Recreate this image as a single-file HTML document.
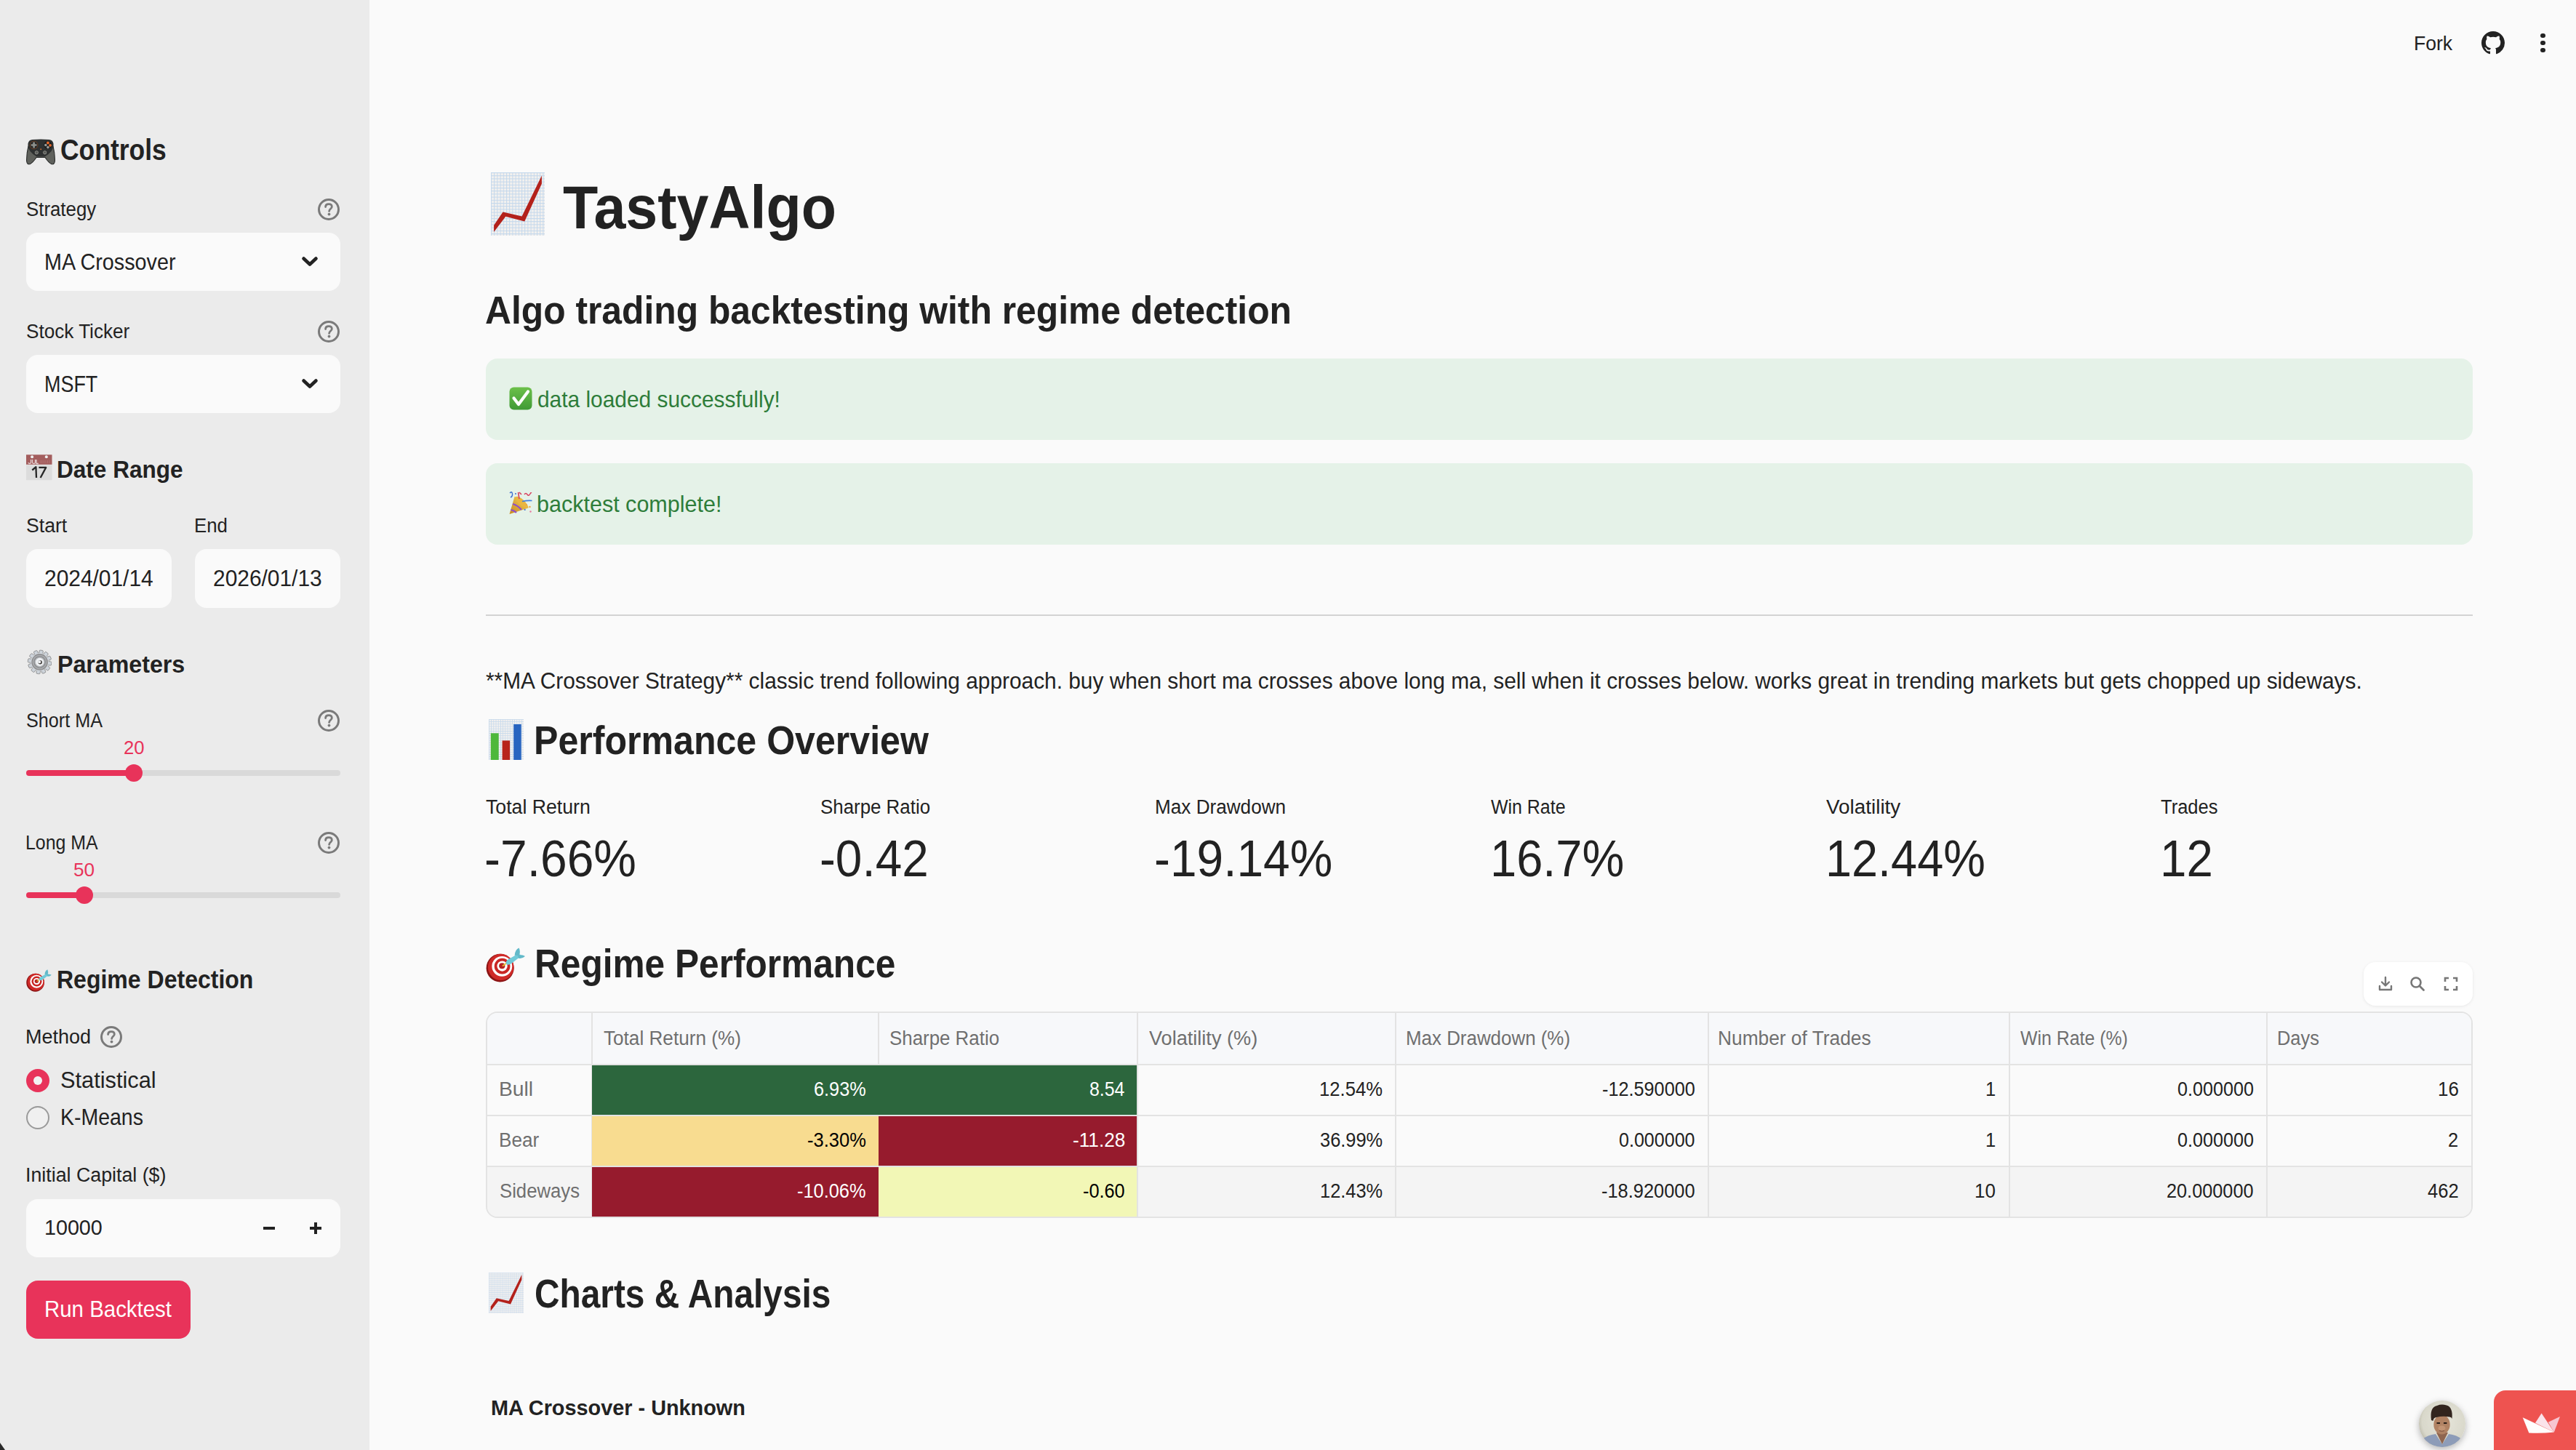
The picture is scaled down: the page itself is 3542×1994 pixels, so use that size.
<!DOCTYPE html>
<html><head><meta charset="utf-8"><style>
html,body{margin:0;padding:0;width:3542px;height:1994px;overflow:hidden;background:#fafafa;}
.t{position:absolute;white-space:nowrap;line-height:1;transform-origin:0 0;font-family:"Liberation Sans",sans-serif;}
.b{position:absolute;}
</style></head><body>
<div class="b" style="left:0px;top:0px;width:508px;height:1994px;background:#ebebeb;border-radius:0px;"></div>
<div class="b" style="left:36px;top:320px;width:432px;height:80px;background:#fafafa;border-radius:16px;"></div>
<svg class="b" style="left:412px;top:348px" width="28" height="24" viewBox="0 0 28 24"><path d="M5.5 7.5 L14 15.5 L22.5 7.5" fill="none" stroke="#222" stroke-width="4.6" stroke-linecap="round" stroke-linejoin="round"/></svg>
<div class="b" style="left:36px;top:488px;width:432px;height:80px;background:#fafafa;border-radius:16px;"></div>
<svg class="b" style="left:412px;top:516px" width="28" height="24" viewBox="0 0 28 24"><path d="M5.5 7.5 L14 15.5 L22.5 7.5" fill="none" stroke="#222" stroke-width="4.6" stroke-linecap="round" stroke-linejoin="round"/></svg>
<svg class="b" style="left:435px;top:271px" width="34" height="34" viewBox="0 0 34 34"><circle cx="17" cy="17" r="13.5" fill="none" stroke="#7a7a7a" stroke-width="3"/><path d="M12.6 13.6 C12.6 10.9 14.6 9.6 17 9.6 C19.5 9.6 21.3 11 21.3 13.3 C21.3 16.2 17.6 16.4 17.6 19.4" fill="none" stroke="#7a7a7a" stroke-width="2.8" stroke-linecap="round"/><circle cx="17.5" cy="23.6" r="1.9" fill="#7a7a7a"/></svg>
<svg class="b" style="left:435px;top:439px" width="34" height="34" viewBox="0 0 34 34"><circle cx="17" cy="17" r="13.5" fill="none" stroke="#7a7a7a" stroke-width="3"/><path d="M12.6 13.6 C12.6 10.9 14.6 9.6 17 9.6 C19.5 9.6 21.3 11 21.3 13.3 C21.3 16.2 17.6 16.4 17.6 19.4" fill="none" stroke="#7a7a7a" stroke-width="2.8" stroke-linecap="round"/><circle cx="17.5" cy="23.6" r="1.9" fill="#7a7a7a"/></svg>
<svg class="b" style="left:435px;top:974px" width="34" height="34" viewBox="0 0 34 34"><circle cx="17" cy="17" r="13.5" fill="none" stroke="#7a7a7a" stroke-width="3"/><path d="M12.6 13.6 C12.6 10.9 14.6 9.6 17 9.6 C19.5 9.6 21.3 11 21.3 13.3 C21.3 16.2 17.6 16.4 17.6 19.4" fill="none" stroke="#7a7a7a" stroke-width="2.8" stroke-linecap="round"/><circle cx="17.5" cy="23.6" r="1.9" fill="#7a7a7a"/></svg>
<svg class="b" style="left:435px;top:1142px" width="34" height="34" viewBox="0 0 34 34"><circle cx="17" cy="17" r="13.5" fill="none" stroke="#7a7a7a" stroke-width="3"/><path d="M12.6 13.6 C12.6 10.9 14.6 9.6 17 9.6 C19.5 9.6 21.3 11 21.3 13.3 C21.3 16.2 17.6 16.4 17.6 19.4" fill="none" stroke="#7a7a7a" stroke-width="2.8" stroke-linecap="round"/><circle cx="17.5" cy="23.6" r="1.9" fill="#7a7a7a"/></svg>
<svg class="b" style="left:136px;top:1409px" width="34" height="34" viewBox="0 0 34 34"><circle cx="17" cy="17" r="13.5" fill="none" stroke="#7a7a7a" stroke-width="3"/><path d="M12.6 13.6 C12.6 10.9 14.6 9.6 17 9.6 C19.5 9.6 21.3 11 21.3 13.3 C21.3 16.2 17.6 16.4 17.6 19.4" fill="none" stroke="#7a7a7a" stroke-width="2.8" stroke-linecap="round"/><circle cx="17.5" cy="23.6" r="1.9" fill="#7a7a7a"/></svg>
<div class="b" style="left:36px;top:755px;width:200px;height:81px;background:#fafafa;border-radius:16px;"></div>
<div class="b" style="left:268px;top:755px;width:200px;height:81px;background:#fafafa;border-radius:16px;"></div>
<div class="b" style="left:36px;top:1058.5px;width:432px;height:8.0px;background:#d9d9d9;border-radius:4px;"></div>
<div class="b" style="left:36px;top:1058.5px;width:148px;height:8.0px;background:#e8335a;border-radius:4px;"></div>
<div class="b" style="left:172px;top:1050.5px;width:24px;height:24.0px;background:#e8335a;border-radius:12px;"></div>
<div class="b" style="left:36px;top:1227px;width:432px;height:8px;background:#d9d9d9;border-radius:4px;"></div>
<div class="b" style="left:36px;top:1227px;width:80px;height:8px;background:#e8335a;border-radius:4px;"></div>
<div class="b" style="left:104px;top:1219px;width:24px;height:24px;background:#e8335a;border-radius:12px;"></div>
<div class="b" style="left:36px;top:1470px;width:32px;height:32px;background:#e8335a;border-radius:16px;"></div>
<div class="b" style="left:46px;top:1480px;width:12px;height:12px;background:#f2f2f2;border-radius:6px;"></div>
<div class="b" style="left:36px;top:1521px;width:32px;height:32px;background:#f0f0f0;border-radius:16px;border:2px solid #9a9a9a;box-sizing:border-box;"></div>
<div class="b" style="left:36px;top:1649px;width:432px;height:80px;background:#fafafa;border-radius:16px;"></div>
<div class="b" style="left:362px;top:1687px;width:16px;height:4px;background:#222;border-radius:0px;"></div>
<div class="b" style="left:426px;top:1687px;width:16px;height:4px;background:#222;border-radius:0px;"></div>
<div class="b" style="left:432px;top:1681px;width:4px;height:16px;background:#222;border-radius:0px;"></div>
<div class="b" style="left:36px;top:1761px;width:226px;height:80px;background:#e8335a;border-radius:16px;"></div>
<svg class="b" style="left:0;top:1984px" width="10" height="10"><path d="M0 0 L7 10 L0 10 Z" fill="#2a2a2a"/></svg>
<svg class="b" style="left:3412px;top:43px" width="32" height="32" viewBox="0 0 16 16"><path d="M8 0C3.58 0 0 3.58 0 8c0 3.54 2.29 6.53 5.47 7.59.4.07.55-.17.55-.38 0-.19-.01-.82-.01-1.49-2.01.37-2.53-.49-2.69-.94-.09-.23-.48-.94-.82-1.13-.28-.15-.68-.52-.01-.53.63-.01 1.08.58 1.23.82.72 1.21 1.87.87 2.33.66.07-.52.28-.87.51-1.07-1.78-.2-3.64-.89-3.64-3.95 0-.87.31-1.59.82-2.15-.08-.2-.36-1.02.08-2.12 0 0 .67-.21 2.2.82.64-.18 1.32-.27 2-.27.68 0 1.36.09 2 .27 1.53-1.04 2.2-.82 2.2-.82.44 1.1.16 1.92.08 2.12.51.56.82 1.27.82 2.15 0 3.07-1.87 3.75-3.65 3.95.29.25.54.73.54 1.48 0 1.07-.01 1.93-.01 2.2 0 .21.15.46.55.38A8.013 8.013 0 0016 8c0-4.42-3.58-8-8-8z" fill="#222"/></svg>
<div class="b" style="left:3493px;top:45.75px;width:6.5px;height:6.5px;background:#222;border-radius:4px;"></div>
<div class="b" style="left:3493px;top:55.75px;width:6.5px;height:6.5px;background:#222;border-radius:4px;"></div>
<div class="b" style="left:3493px;top:65.75px;width:6.5px;height:6.5px;background:#222;border-radius:4px;"></div>
<div class="b" style="left:668px;top:493px;width:2732px;height:112px;background:#e5f2e8;border-radius:16px;"></div>
<div class="b" style="left:668px;top:637px;width:2732px;height:112px;background:#e5f2e8;border-radius:16px;"></div>
<div class="b" style="left:668px;top:845px;width:2732px;height:2px;background:#d3d3d3;border-radius:0px;"></div>
<div class="b" style="left:668px;top:1391px;width:2732px;height:284px;background:#fafafa;border-radius:16px;border:2px solid #e3e3e3;box-sizing:border-box;overflow:hidden;"></div>
<div class="b" style="left:670px;top:1393px;width:2728px;height:70px;background:#f7f8fa;border-radius:0px;border-top-left-radius:14px;border-top-right-radius:14px;"></div>
<div class="b" style="left:670px;top:1604px;width:2728px;height:69px;background:#f4f4f4;border-radius:0px;border-bottom-left-radius:14px;border-bottom-right-radius:14px;"></div>
<div class="b" style="left:814px;top:1464px;width:394px;height:70px;background:#2c663d;border-radius:0px;"></div>
<div class="b" style="left:814px;top:1534px;width:394px;height:70px;background:#f8dc90;border-radius:0px;"></div>
<div class="b" style="left:814px;top:1604px;width:394px;height:69px;background:#961b2d;border-radius:0px;"></div>
<div class="b" style="left:1208px;top:1464px;width:356px;height:70px;background:#2c663d;border-radius:0px;"></div>
<div class="b" style="left:1208px;top:1534px;width:356px;height:70px;background:#961b2d;border-radius:0px;"></div>
<div class="b" style="left:1208px;top:1604px;width:356px;height:69px;background:#f2f7b6;border-radius:0px;"></div>
<div class="b" style="left:813px;top:1393px;width:2px;height:280px;background:#e3e3e3;border-radius:0px;"></div>
<div class="b" style="left:1207px;top:1393px;width:2px;height:71px;background:#e3e3e3;border-radius:0px;"></div>
<div class="b" style="left:1563px;top:1393px;width:2px;height:280px;background:#e3e3e3;border-radius:0px;"></div>
<div class="b" style="left:1918px;top:1393px;width:2px;height:280px;background:#e3e3e3;border-radius:0px;"></div>
<div class="b" style="left:2348px;top:1393px;width:2px;height:280px;background:#e3e3e3;border-radius:0px;"></div>
<div class="b" style="left:2762px;top:1393px;width:2px;height:280px;background:#e3e3e3;border-radius:0px;"></div>
<div class="b" style="left:3116px;top:1393px;width:2px;height:280px;background:#e3e3e3;border-radius:0px;"></div>
<div class="b" style="left:670px;top:1463px;width:2728px;height:2px;background:#e3e3e3;border-radius:0px;"></div>
<div class="b" style="left:670px;top:1533px;width:2728px;height:2px;background:#e3e3e3;border-radius:0px;"></div>
<div class="b" style="left:670px;top:1603px;width:2728px;height:2px;background:#e3e3e3;border-radius:0px;"></div>
<div class="b" style="left:814px;top:1465px;width:394px;height:68px;background:#2c663d;border-radius:0px;"></div>
<div class="b" style="left:814px;top:1535px;width:394px;height:68px;background:#f8dc90;border-radius:0px;"></div>
<div class="b" style="left:814px;top:1605px;width:394px;height:68px;background:#961b2d;border-radius:0px;"></div>
<div class="b" style="left:1208px;top:1465px;width:355px;height:68px;background:#2c663d;border-radius:0px;"></div>
<div class="b" style="left:1208px;top:1535px;width:355px;height:68px;background:#961b2d;border-radius:0px;"></div>
<div class="b" style="left:1208px;top:1605px;width:355px;height:68px;background:#f2f7b6;border-radius:0px;"></div>
<div class="b" style="left:3250px;top:1323px;width:150px;height:60px;background:#ffffff;border-radius:16px;box-shadow:0 1px 4px rgba(0,0,0,0.08);"></div>
<svg class="b" style="left:3266px;top:1339px" width="28" height="28" viewBox="0 0 28 28"><path d="M14 5 V16 M9 11.5 L14 16.5 L19 11.5 M6 17 V22 H22 V17" fill="none" stroke="#777" stroke-width="2.4" stroke-linecap="round" stroke-linejoin="round"/></svg>
<svg class="b" style="left:3310px;top:1339px" width="28" height="28" viewBox="0 0 28 28"><circle cx="12" cy="12" r="6.5" fill="none" stroke="#777" stroke-width="2.6"/><path d="M17 17 L22.5 22.5" stroke="#777" stroke-width="2.8" stroke-linecap="round"/></svg>
<svg class="b" style="left:3356px;top:1339px" width="28" height="28" viewBox="0 0 28 28"><path d="M6 11 V6 H11 M17 6 H22 V11 M22 17 V22 H17 M11 22 H6 V17" fill="none" stroke="#777" stroke-width="2.6"/></svg>
<div class="b" style="left:3326px;top:1926px;width:64px;height:64px;border-radius:32px;box-shadow:0 3px 10px rgba(0,0,0,0.28);"></div>
<svg class="b" style="left:3326px;top:1926px" width="64" height="64" viewBox="0 0 64 64"><defs><clipPath id="av"><circle cx="32" cy="32" r="32"/></clipPath><radialGradient id="avbg" cx="0.55" cy="0.45" r="0.6"><stop offset="0" stop-color="#e6e5da"/><stop offset="0.8" stop-color="#d9d8cb"/><stop offset="1" stop-color="#b9b7a8"/></radialGradient></defs><g clip-path="url(#av)"><rect width="64" height="64" fill="url(#avbg)"/><path d="M4 54 Q12 47 23 46 L32 60 L41 46 Q52 47 60 54 L64 64 L0 64 Z" fill="#8d9cb8"/><path d="M24 44 L32 60 L40 44 Z" fill="#8f6650"/><ellipse cx="31.5" cy="33" rx="11.2" ry="13.5" fill="#b08263"/><ellipse cx="31.5" cy="38" rx="5" ry="3.5" fill="#c29474"/><path d="M17 27 Q14.5 9 25 7 Q31 4.5 38 6.5 Q47 9 45.5 25 Q44.5 22 41.5 22.5 Q33 21 24 23 Q20 23.5 19.5 28 Z" fill="#32251e"/><path d="M24.5 31 H29 M34 31 H38.5" stroke="#2a1e18" stroke-width="1.8"/><path d="M28 41.5 Q31.5 43 35 41.5" stroke="#7a5040" stroke-width="1" fill="none"/></g></svg>
<div class="b" style="left:3429px;top:1912px;width:171px;height:188px;background:#ee5350;border-radius:16px;"></div>
<svg class="b" style="left:3466px;top:1940px" width="58" height="36" viewBox="0 0 58 36"><path d="M37.8 15.8 L54 8.1 L45.9 29.5 Z" fill="#f7c6d1"/><path d="M20 16.8 L28.6 3.6 L45.9 29.5 Z" fill="#fbe3ea"/><path d="M2.7 9.2 L11.3 30.5 Q28 31.5 45.9 29.5 Z" fill="#fffdfc"/></svg>
<svg class="b" style="left:675px;top:237px" width="74" height="87" viewBox="0 0 74 87" preserveAspectRatio="none"><defs><pattern id="g675237" width="4.2" height="4.2" patternUnits="userSpaceOnUse"><rect width="4.2" height="4.2" fill="#f3f1ef"/><path d="M0 0.5 H4.2 M0.5 0 V4.2" stroke="#c4d8ec" stroke-width="1"/></pattern></defs><rect width="74" height="87" fill="url(#g675237)"/><polygon points="4.1,72.8 16.5,54.6 42.6,60.4 69.9,4.5 69.9,15.7 46.3,67.4 20.3,60.8 4.1,81.9" fill="#b3211b"/></svg>
<svg class="b" style="left:672px;top:1750px" width="48" height="56" viewBox="0 0 74 87" preserveAspectRatio="none"><defs><pattern id="g6721750" width="4.2" height="4.2" patternUnits="userSpaceOnUse"><rect width="4.2" height="4.2" fill="#f3f1ef"/><path d="M0 0.5 H4.2 M0.5 0 V4.2" stroke="#c4d8ec" stroke-width="1"/></pattern></defs><rect width="74" height="87" fill="url(#g6721750)"/><polygon points="4.1,72.8 16.5,54.6 42.6,60.4 69.9,4.5 69.9,15.7 46.3,67.4 20.3,60.8 4.1,81.9" fill="#b3211b"/></svg>
<svg class="b" style="left:672px;top:989px" width="48" height="56" viewBox="0 0 48 56"><defs><pattern id="gb" width="3.2" height="3.2" patternUnits="userSpaceOnUse"><rect width="3.2" height="3.2" fill="#f3f1ef"/><path d="M0 0.4 H3.2 M0.4 0 V3.2" stroke="#c8daec" stroke-width="0.8"/></pattern></defs><rect width="48" height="56" fill="url(#gb)"/><rect x="2.8" y="19.3" width="10.9" height="36.7" fill="#4eb83a"/><rect x="18.6" y="29.4" width="10.5" height="26.6" fill="#b8241c"/><rect x="34.2" y="7" width="10.5" height="49" fill="#2764c0"/></svg>
<svg class="b" style="left:700px;top:532px" width="32" height="32" viewBox="0 0 32 32"><defs><linearGradient id="gc" x1="0" y1="0" x2="0" y2="1"><stop offset="0" stop-color="#6cc04a"/><stop offset="1" stop-color="#3f9a35"/></linearGradient></defs><rect x="0.5" y="0.5" width="31" height="31" rx="6" fill="url(#gc)"/><path d="M6.5 15.5 L13 24 L26 6.5" fill="none" stroke="#fff" stroke-width="4.2" stroke-linejoin="round" stroke-linecap="round"/></svg>
<svg class="b" style="left:700px;top:676px" width="32" height="32" viewBox="0 0 32 32"><defs><linearGradient id="gp" x1="0" y1="1" x2="1" y2="0"><stop offset="0" stop-color="#c98a20"/><stop offset="1" stop-color="#f2cf5a"/></linearGradient></defs><path d="M0.5 31 L7.5 7 Q16 8 23 16 Q27 20 26.5 22.5 Z" fill="url(#gp)"/><ellipse cx="17" cy="14.5" rx="10.5" ry="4" transform="rotate(42 17 14.5)" fill="#e9b640"/><path d="M5 17 Q12 19 17 25 M2.5 25 Q7 26 10 29" stroke="#8e4fc8" stroke-width="2.2" fill="none"/><path d="M1 2 Q4 -1 4.5 3 Q5 7 2 8" fill="none" stroke="#3e6fd0" stroke-width="1.4"/><path d="M12.5 1 L14 10 M14 1 L17 4" fill="none" stroke="#d8405e" stroke-width="1.6"/><path d="M21 4 Q23 1 25 4 Q27 7 29 3 Q30 1 31 2" fill="none" stroke="#d8405e" stroke-width="1.4"/><path d="M18 13.5 Q25 12 31.5 12.5" fill="none" stroke="#3e7ee0" stroke-width="1.6"/><circle cx="9" cy="3" r="1" fill="#3e6fd0"/><circle cx="21.7" cy="25" r="1.1" fill="#3e6fd0"/><circle cx="28.5" cy="21" r="1.2" fill="#f0a040"/><circle cx="29.5" cy="27.5" r="1.2" fill="#e87aa0"/><circle cx="24" cy="18" r="1" fill="#f0a040"/></svg>
<svg class="b" style="left:36px;top:191px" width="40" height="36" viewBox="0 0 40 36"><path d="M3 10 Q0.3 21 0.6 30.5 Q1.2 35.5 5 34.6 Q8.5 33.6 14 25.5 L26 25.5 Q31.5 33.6 35 34.6 Q38.8 35.5 39.4 30.5 Q39.7 21 37 10 Z" fill="#5f615c" stroke="#2a2c2b" stroke-width="1.1"/><path d="M8.5 1 Q3.5 1.2 2.5 6.5 Q2 12 5.5 17 Q9.5 22 14.5 24.5 L25.5 24.5 Q30.5 22 34.5 17 Q38 12 37.5 6.5 Q36.5 1.2 31.5 1 Q20 0 8.5 1 Z" fill="#2e3131"/><circle cx="10.6" cy="8.5" r="5.4" fill="#262828" stroke="#8a4a22" stroke-width="0.7"/><path d="M10.6 4.6 V12.4 M6.7 8.5 H14.5" stroke="#8e918c" stroke-width="2.6"/><circle cx="29.9" cy="8.5" r="5.6" fill="#1e2020"/><circle cx="29.9" cy="5.4" r="1.9" fill="#e8682a"/><circle cx="33" cy="8.8" r="1.9" fill="#e8682a"/><circle cx="26.8" cy="8.5" r="1.8" fill="#9a9c98"/><circle cx="29.9" cy="11.6" r="1.8" fill="#9a9c98"/><circle cx="14.3" cy="18.8" r="3.1" fill="#8a8c88" stroke="#1e2020" stroke-width="0.8"/><circle cx="25.7" cy="18.8" r="3.1" fill="#8a8c88" stroke="#1e2020" stroke-width="0.8"/><circle cx="14.3" cy="18.8" r="1.8" fill="#5a5c58"/><circle cx="25.7" cy="18.8" r="1.8" fill="#5a5c58"/><circle cx="20.2" cy="14.3" r="1" fill="#c86a30"/></svg>
<svg class="b" style="left:36px;top:625px" width="36" height="36" viewBox="0 0 36 36"><rect x="0" y="14.5" width="35.5" height="20.8" fill="#dcdcdc"/><rect x="0" y="0.3" width="35.5" height="13.5" fill="#a35d5d"/><circle cx="8.1" cy="3.3" r="2" fill="#eef0f0"/><circle cx="27.8" cy="3.3" r="2" fill="#eef0f0"/><path d="M6.5 7 V11 Q6.5 12.5 4.8 12.5 Q3 12.5 3 11 M8.5 7 V11 Q8.5 12.5 10.5 12.5 Q12.5 12.5 12.5 11 V7 M14 7 V12.5 H16.8" fill="none" stroke="#e4cfcf" stroke-width="1.3"/><path d="M20 8 V12 M22 8 V12 M24.5 8 V12 M27 8 V12 M29.5 8 V12 M32 8 V12" stroke="#b87878" stroke-width="0.8"/><path d="M8.3 21.5 L13.4 17.2 L14 32" fill="none" stroke="#262626" stroke-width="2.3" stroke-linejoin="round"/><path d="M17.4 17.9 H27.2 L19.6 32" fill="none" stroke="#262626" stroke-width="2.3" stroke-linejoin="round"/></svg>
<svg class="b" style="left:36px;top:893px" width="35" height="35" viewBox="0 0 35 35"><g transform="translate(18.6 17.4)"><rect x="-2.6" y="-16.3" width="5.2" height="7" rx="1.2" fill="#cdd3da" stroke="#6e6e6e" stroke-width="0.6" transform="rotate(8)"/><rect x="-2.6" y="-16.3" width="5.2" height="7" rx="1.2" fill="#cdd3da" stroke="#6e6e6e" stroke-width="0.6" transform="rotate(38)"/><rect x="-2.6" y="-16.3" width="5.2" height="7" rx="1.2" fill="#cdd3da" stroke="#6e6e6e" stroke-width="0.6" transform="rotate(68)"/><rect x="-2.6" y="-16.3" width="5.2" height="7" rx="1.2" fill="#cdd3da" stroke="#6e6e6e" stroke-width="0.6" transform="rotate(98)"/><rect x="-2.6" y="-16.3" width="5.2" height="7" rx="1.2" fill="#cdd3da" stroke="#6e6e6e" stroke-width="0.6" transform="rotate(128)"/><rect x="-2.6" y="-16.3" width="5.2" height="7" rx="1.2" fill="#cdd3da" stroke="#6e6e6e" stroke-width="0.6" transform="rotate(158)"/><rect x="-2.6" y="-16.3" width="5.2" height="7" rx="1.2" fill="#cdd3da" stroke="#6e6e6e" stroke-width="0.6" transform="rotate(188)"/><rect x="-2.6" y="-16.3" width="5.2" height="7" rx="1.2" fill="#cdd3da" stroke="#6e6e6e" stroke-width="0.6" transform="rotate(218)"/><rect x="-2.6" y="-16.3" width="5.2" height="7" rx="1.2" fill="#cdd3da" stroke="#6e6e6e" stroke-width="0.6" transform="rotate(248)"/><rect x="-2.6" y="-16.3" width="5.2" height="7" rx="1.2" fill="#cdd3da" stroke="#6e6e6e" stroke-width="0.6" transform="rotate(278)"/><rect x="-2.6" y="-16.3" width="5.2" height="7" rx="1.2" fill="#cdd3da" stroke="#6e6e6e" stroke-width="0.6" transform="rotate(308)"/><rect x="-2.6" y="-16.3" width="5.2" height="7" rx="1.2" fill="#cdd3da" stroke="#6e6e6e" stroke-width="0.6" transform="rotate(338)"/><circle r="12.3" fill="#d3d8de"/><circle r="11.3" fill="#8d8d8f"/><circle r="10" fill="#a9abae"/><circle r="8.2" fill="#8a8b8e"/><circle r="7" fill="#b7babd"/><circle r="5.6" fill="#eef0f3"/><circle cx="0.6" cy="0.4" r="2.7" fill="#3e3a38"/><circle cx="-0.3" cy="-0.2" r="2" fill="#eef0f3"/></g></svg>
<svg class="b" style="left:36px;top:1333px" width="36" height="31" viewBox="0 0 36 31"><ellipse cx="12.6" cy="18.2" rx="12.3" ry="12.5" fill="#8c1414"/><ellipse cx="13.3" cy="17.4" rx="11.5" ry="11.7" fill="#cf2a28"/><circle cx="14.3" cy="16.7" r="9" fill="#fdfdfd"/><circle cx="14.5" cy="16.6" r="7" fill="#c92624"/><circle cx="14.5" cy="16.5" r="4.6" fill="#fdfdfd"/><circle cx="14.3" cy="16.3" r="2.65" fill="#b52020"/><path d="M14.7 16.5 L19.9 12.7" stroke="#e8c030" stroke-width="1.1"/><path d="M18.2 15 Q16.8 12 20.5 10.2 L27.5 6.2 Q30.8 5.4 31.3 7.6 L24.5 12.8 Q20.5 16.2 18.2 15 Z" fill="#70cad8"/><path d="M25.5 7 Q25.8 1.8 29.4 0.3 Q30.8 3.5 29.6 7.2 Z" fill="#62b9c9"/><path d="M28.3 7.6 Q31.8 5.6 34.8 7.8 Q32.3 10.2 29 9.5 Z" fill="#62b9c9"/></svg>
<svg class="b" style="left:668px;top:1303px" width="56" height="48" viewBox="0 0 36 31"><ellipse cx="12.6" cy="18.2" rx="12.3" ry="12.5" fill="#8c1414"/><ellipse cx="13.3" cy="17.4" rx="11.5" ry="11.7" fill="#cf2a28"/><circle cx="14.3" cy="16.7" r="9" fill="#fdfdfd"/><circle cx="14.5" cy="16.6" r="7" fill="#c92624"/><circle cx="14.5" cy="16.5" r="4.6" fill="#fdfdfd"/><circle cx="14.3" cy="16.3" r="2.65" fill="#b52020"/><path d="M14.7 16.5 L19.9 12.7" stroke="#e8c030" stroke-width="1.1"/><path d="M18.2 15 Q16.8 12 20.5 10.2 L27.5 6.2 Q30.8 5.4 31.3 7.6 L24.5 12.8 Q20.5 16.2 18.2 15 Z" fill="#70cad8"/><path d="M25.5 7 Q25.8 1.8 29.4 0.3 Q30.8 3.5 29.6 7.2 Z" fill="#62b9c9"/><path d="M28.3 7.6 Q31.8 5.6 34.8 7.8 Q32.3 10.2 29 9.5 Z" fill="#62b9c9"/></svg>
<div class="t" style="left:83.32px;top:186.21px;font-size:41.10px;font-weight:700;color:#222222;transform:scaleX(0.8627)">Controls</div>
<div class="t" style="left:36.06px;top:273.62px;font-size:27.62px;font-weight:400;color:#222222;transform:scaleX(0.9353)">Strategy</div>
<div class="t" style="left:61.12px;top:345.16px;font-size:30.52px;font-weight:400;color:#222222;transform:scaleX(0.9418)">MA Crossover</div>
<div class="t" style="left:36.05px;top:441.62px;font-size:27.62px;font-weight:400;color:#222222;transform:scaleX(0.9463)">Stock Ticker</div>
<div class="t" style="left:61.23px;top:513.16px;font-size:30.52px;font-weight:400;color:#222222;transform:scaleX(0.8827)">MSFT</div>
<div class="t" style="left:78.19px;top:628.21px;font-size:34.01px;font-weight:700;color:#222222;transform:scaleX(0.9280)">Date Range</div>
<div class="t" style="left:36.04px;top:708.62px;font-size:27.62px;font-weight:400;color:#222222;transform:scaleX(0.9649)">Start</div>
<div class="t" style="left:267.13px;top:708.62px;font-size:27.62px;font-weight:400;color:#222222;transform:scaleX(0.9348)">End</div>
<div class="t" style="left:61.02px;top:780.16px;font-size:30.52px;font-weight:400;color:#222222;transform:scaleX(0.9801)">2024/01/14</div>
<div class="t" style="left:293.02px;top:780.16px;font-size:30.52px;font-weight:400;color:#222222;transform:scaleX(0.9801)">2026/01/13</div>
<div class="t" style="left:78.66px;top:896.21px;font-size:34.01px;font-weight:700;color:#222222;transform:scaleX(0.9461)">Parameters</div>
<div class="t" style="left:36.11px;top:976.01px;font-size:28.34px;font-weight:400;color:#222222;transform:scaleX(0.8889)">Short MA</div>
<div class="t" style="left:169.52px;top:1014.85px;font-size:26.16px;font-weight:400;color:#e8335a;transform:scaleX(0.9815)">20</div>
<div class="t" style="left:35.24px;top:1144.01px;font-size:28.34px;font-weight:400;color:#222222;transform:scaleX(0.8793)">Long MA</div>
<div class="t" style="left:101.00px;top:1182.85px;font-size:26.16px;font-weight:400;color:#e8335a;transform:scaleX(1.0000)">50</div>
<div class="t" style="left:78.24px;top:1330.01px;font-size:35.43px;font-weight:700;color:#222222;transform:scaleX(0.9038)">Regime Detection</div>
<div class="t" style="left:35.04px;top:1411.62px;font-size:27.62px;font-weight:400;color:#222222;transform:scaleX(0.9775)">Method</div>
<div class="t" style="left:82.98px;top:1469.66px;font-size:30.52px;font-weight:400;color:#222222;transform:scaleX(1.0079)">Statistical</div>
<div class="t" style="left:83.13px;top:1521.16px;font-size:30.52px;font-weight:400;color:#222222;transform:scaleX(0.9328)">K-Means</div>
<div class="t" style="left:35.06px;top:1601.62px;font-size:27.62px;font-weight:400;color:#222222;transform:scaleX(0.9694)">Initial Capital ($)</div>
<div class="t" style="left:61.03px;top:1673.89px;font-size:29.07px;font-weight:400;color:#222222;transform:scaleX(0.9872)">10000</div>
<div class="t" style="left:61.07px;top:1785.16px;font-size:30.52px;font-weight:400;color:#ffffff;transform:scaleX(0.9642)">Run Backtest</div>
<div class="t" style="left:3319.08px;top:45.62px;font-size:27.62px;font-weight:400;color:#222222;transform:scaleX(0.9623)">Fork</div>
<div class="t" style="left:774.07px;top:244.30px;font-size:83.05px;font-weight:700;color:#222222;transform:scaleX(0.9515)">TastyAlgo</div>
<div class="t" style="left:667.10px;top:400.11px;font-size:53.85px;font-weight:700;color:#222222;transform:scaleX(0.9244)">Algo trading backtesting with regime detection</div>
<div class="t" style="left:739.02px;top:533.76px;font-size:30.52px;font-weight:400;color:#2e7d3a;transform:scaleX(0.9792)">data loaded successfully!</div>
<div class="t" style="left:738.00px;top:678.16px;font-size:30.52px;font-weight:400;color:#2e7d3a;transform:scaleX(1.0000)">backtest complete!</div>
<div class="t" style="left:668.04px;top:920.55px;font-size:31.25px;font-weight:400;color:#222222;transform:scaleX(0.9551)">**MA Crossover Strategy** classic trend following approach. buy when short ma crosses above long ma, sell when it crosses below. works great in trending markets but gets chopped up sideways.</div>
<div class="t" style="left:734.47px;top:991.21px;font-size:55.27px;font-weight:700;color:#222222;transform:scaleX(0.9063)">Performance Overview</div>
<div class="t" style="left:668.03px;top:1096.02px;font-size:27.62px;font-weight:400;color:#222222;transform:scaleX(0.9658)">Total Return</div>
<div class="t" style="left:666.19px;top:1145.93px;font-size:70.49px;font-weight:400;color:#222222;transform:scaleX(0.9358)">-7.66%</div>
<div class="t" style="left:1128.06px;top:1096.02px;font-size:27.62px;font-weight:400;color:#222222;transform:scaleX(0.9371)">Sharpe Ratio</div>
<div class="t" style="left:1127.20px;top:1145.93px;font-size:70.49px;font-weight:400;color:#222222;transform:scaleX(0.9318)">-0.42</div>
<div class="t" style="left:1588.11px;top:1096.02px;font-size:27.62px;font-weight:400;color:#222222;transform:scaleX(0.9465)">Max Drawdown</div>
<div class="t" style="left:1587.20px;top:1145.93px;font-size:70.49px;font-weight:400;color:#222222;transform:scaleX(0.9339)">-19.14%</div>
<div class="t" style="left:2050.00px;top:1096.02px;font-size:27.62px;font-weight:400;color:#222222;transform:scaleX(0.9027)">Win Rate</div>
<div class="t" style="left:2049.39px;top:1145.93px;font-size:70.49px;font-weight:400;color:#222222;transform:scaleX(0.9223)">16.7%</div>
<div class="t" style="left:2511.00px;top:1096.02px;font-size:27.62px;font-weight:400;color:#222222;transform:scaleX(1.0099)">Volatility</div>
<div class="t" style="left:2510.40px;top:1145.93px;font-size:70.49px;font-weight:400;color:#222222;transform:scaleX(0.9198)">12.44%</div>
<div class="t" style="left:2971.08px;top:1096.02px;font-size:27.62px;font-weight:400;color:#222222;transform:scaleX(0.9241)">Trades</div>
<div class="t" style="left:2970.36px;top:1145.93px;font-size:70.49px;font-weight:400;color:#222222;transform:scaleX(0.9286)">12</div>
<div class="t" style="left:734.50px;top:1298.21px;font-size:55.27px;font-weight:700;color:#222222;transform:scaleX(0.8977)">Regime Performance</div>
<div class="t" style="left:829.55px;top:1413.62px;font-size:27.62px;font-weight:400;color:#6f6f6f;transform:scaleX(0.9467)">Total Return (%)</div>
<div class="t" style="left:1223.06px;top:1413.62px;font-size:27.62px;font-weight:400;color:#6f6f6f;transform:scaleX(0.9371)">Sharpe Ratio</div>
<div class="t" style="left:1579.70px;top:1413.62px;font-size:27.62px;font-weight:400;color:#6f6f6f;transform:scaleX(0.9820)">Volatility (%)</div>
<div class="t" style="left:1932.72px;top:1413.62px;font-size:27.62px;font-weight:400;color:#6f6f6f;transform:scaleX(0.9384)">Max Drawdown (%)</div>
<div class="t" style="left:2362.09px;top:1413.62px;font-size:27.62px;font-weight:400;color:#6f6f6f;transform:scaleX(0.9528)">Number of Trades</div>
<div class="t" style="left:2778.00px;top:1413.62px;font-size:27.62px;font-weight:400;color:#6f6f6f;transform:scaleX(0.9006)">Win Rate (%)</div>
<div class="t" style="left:3130.76px;top:1413.62px;font-size:27.62px;font-weight:400;color:#6f6f6f;transform:scaleX(0.9200)">Days</div>
<div class="t" style="left:685.95px;top:1483.62px;font-size:27.62px;font-weight:400;color:#6f6f6f;transform:scaleX(1.0233)">Bull</div>
<div class="t" style="left:686.11px;top:1553.62px;font-size:27.62px;font-weight:400;color:#6f6f6f;transform:scaleX(0.9464)">Bear</div>
<div class="t" style="left:687.07px;top:1623.62px;font-size:27.62px;font-weight:400;color:#6f6f6f;transform:scaleX(0.9310)">Sideways</div>
<div class="t" style="left:735.31px;top:1752.21px;font-size:55.27px;font-weight:700;color:#222222;transform:scaleX(0.8651)">Charts &amp; Analysis</div>
<div class="t" style="left:675.11px;top:1920.81px;font-size:29.76px;font-weight:700;color:#222222;transform:scaleX(0.9696)">MA Crossover - Unknown</div>
<div class="t" style="left:1118.61px;top:1483.01px;font-size:28.34px;font-weight:400;color:#ffffff;transform:scaleX(0.8924)">6.93%</div>
<div class="t" style="left:1109.80px;top:1553.01px;font-size:28.34px;font-weight:400;color:#000000;transform:scaleX(0.9011)">-3.30%</div>
<div class="t" style="left:1095.90px;top:1623.01px;font-size:28.34px;font-weight:400;color:#ffffff;transform:scaleX(0.8962)">-10.06%</div>
<div class="t" style="left:1497.72px;top:1483.01px;font-size:28.34px;font-weight:400;color:#ffffff;transform:scaleX(0.8778)">8.54</div>
<div class="t" style="left:1474.88px;top:1553.01px;font-size:28.34px;font-weight:400;color:#ffffff;transform:scaleX(0.9237)">-11.28</div>
<div class="t" style="left:1488.81px;top:1623.01px;font-size:28.34px;font-weight:400;color:#000000;transform:scaleX(0.8937)">-0.60</div>
<div class="t" style="left:1813.99px;top:1483.01px;font-size:28.34px;font-weight:400;color:#222222;transform:scaleX(0.9054)">12.54%</div>
<div class="t" style="left:1814.79px;top:1553.01px;font-size:28.34px;font-weight:400;color:#222222;transform:scaleX(0.8970)">36.99%</div>
<div class="t" style="left:1814.79px;top:1623.01px;font-size:28.34px;font-weight:400;color:#222222;transform:scaleX(0.8970)">12.43%</div>
<div class="t" style="left:2203.01px;top:1483.01px;font-size:28.34px;font-weight:400;color:#222222;transform:scaleX(0.8915)">-12.590000</div>
<div class="t" style="left:2226.12px;top:1553.01px;font-size:28.34px;font-weight:400;color:#222222;transform:scaleX(0.8845)">0.000000</div>
<div class="t" style="left:2202.23px;top:1623.01px;font-size:28.34px;font-weight:400;color:#222222;transform:scaleX(0.8970)">-18.920000</div>
<div class="t" style="left:2730.05px;top:1483.01px;font-size:28.34px;font-weight:400;color:#222222;transform:scaleX(0.8970)">1</div>
<div class="t" style="left:2730.05px;top:1553.01px;font-size:28.34px;font-weight:400;color:#222222;transform:scaleX(0.8970)">1</div>
<div class="t" style="left:2715.17px;top:1623.01px;font-size:28.34px;font-weight:400;color:#222222;transform:scaleX(0.9138)">10</div>
<div class="t" style="left:2993.91px;top:1483.01px;font-size:28.34px;font-weight:400;color:#222222;transform:scaleX(0.8879)">0.000000</div>
<div class="t" style="left:2993.91px;top:1553.01px;font-size:28.34px;font-weight:400;color:#222222;transform:scaleX(0.8879)">0.000000</div>
<div class="t" style="left:2979.11px;top:1623.01px;font-size:28.34px;font-weight:400;color:#222222;transform:scaleX(0.8924)">20.000000</div>
<div class="t" style="left:3352.17px;top:1483.01px;font-size:28.34px;font-weight:400;color:#222222;transform:scaleX(0.9143)">16</div>
<div class="t" style="left:3366.14px;top:1553.01px;font-size:28.34px;font-weight:400;color:#222222;transform:scaleX(0.8970)">2</div>
<div class="t" style="left:3338.10px;top:1623.01px;font-size:28.34px;font-weight:400;color:#222222;transform:scaleX(0.9022)">462</div>
</body></html>
